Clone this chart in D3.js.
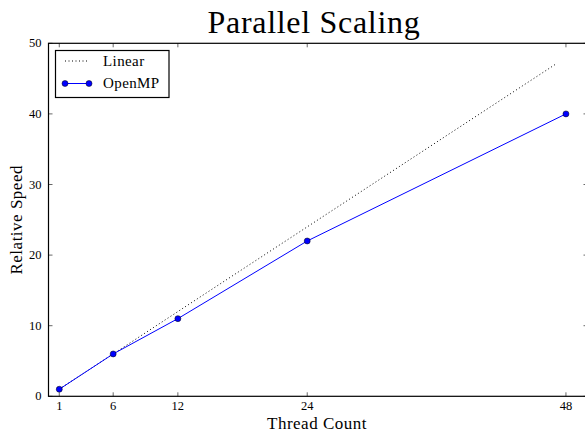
<!DOCTYPE html>
<html><head><meta charset="utf-8">
<script src="https://cdn.jsdelivr.net/npm/d3@7/dist/d3.min.js"></script>
<style>body{margin:0;background:#fff}svg{display:block}text{font-family:"Liberation Serif","DejaVu Serif",serif}</style>
</head><body>
<svg id="c" width="585" height="434"></svg>
<script>
const threadTicks = [1, 6, 12, 24, 48];
const yTicks = [0, 10, 20, 30, 40, 50];
const linearX = [1, 47];
const linearY = [1, 47];
const openmpX = [1, 6, 12, 24, 48];
const openmpY = [1, 6, 11, 22, 40];

const svg = d3.select("#c");
const L = 48.5, R = 587.5, T = 43.3, B = 396.3;
const x = d3.scaleLinear().domain([0, 50]).range([L, R]);
const y = d3.scaleLinear().domain([0, 50]).range([B, T]);

const g = svg.append("g");
threadTicks.forEach(t => {
  g.append("line").attr("x1", x(t)).attr("x2", x(t)).attr("y1", B).attr("y2", B - 4).attr("stroke", "#000").attr("stroke-width", 0.6);
  g.append("line").attr("x1", x(t)).attr("x2", x(t)).attr("y1", T).attr("y2", T + 4).attr("stroke", "#000").attr("stroke-width", 0.6);
  g.append("text").attr("x", x(t)).attr("y", B + 14).attr("text-anchor", "middle").attr("font-size", 12.5).text(t);
});
yTicks.forEach(t => {
  g.append("line").attr("x1", L).attr("x2", L + 4).attr("y1", y(t)).attr("y2", y(t)).attr("stroke", "#000").attr("stroke-width", 0.6);
  g.append("line").attr("x1", R).attr("x2", R - 4).attr("y1", y(t)).attr("y2", y(t)).attr("stroke", "#000").attr("stroke-width", 0.6);
  g.append("text").attr("x", L - 7).attr("y", y(t) + 4).attr("text-anchor", "end").attr("font-size", 12.5).text(t);
});

const line = d3.line().x(d => x(d[0])).y(d => y(d[1]));
svg.append("path").datum(linearX.map((v, i) => [v, linearY[i]])).attr("d", line)
  .attr("fill", "none").attr("stroke", "#000").attr("stroke-width", 1).attr("stroke-dasharray", "1,2.5");
const om = openmpX.map((v, i) => [v, openmpY[i]]);
svg.append("path").datum(om).attr("d", line).attr("fill", "none").attr("stroke", "#0000ff").attr("stroke-width", 1);
svg.selectAll("circle.p").data(om).join("circle").attr("cx", d => x(d[0])).attr("cy", d => y(d[1])).attr("r", 3)
  .attr("fill", "#0000ff").attr("stroke", "#000").attr("stroke-width", 0.5);

svg.append("rect").attr("x", L).attr("y", T).attr("width", R - L).attr("height", B - T).attr("fill", "none").attr("stroke", "#000").attr("stroke-width", 1.2);

svg.append("rect").attr("x", 55.5).attr("y", 50.5).attr("width", 113.5).attr("height", 47).attr("fill", "#fff").attr("stroke", "#000").attr("stroke-width", 1.2);
svg.append("line").attr("x1", 65).attr("x2", 89).attr("y1", 61).attr("y2", 61).attr("stroke", "#000").attr("stroke-dasharray", "1,2.5");
svg.append("text").attr("x", 103).attr("y", 65.5).attr("font-size", 15).attr("letter-spacing", 0.4).text("Linear");
svg.append("line").attr("x1", 65).attr("x2", 89).attr("y1", 83.5).attr("y2", 83.5).attr("stroke", "#0000ff");
[65, 89].forEach(cx => svg.append("circle").attr("cx", cx).attr("cy", 83.5).attr("r", 3).attr("fill", "#0000ff").attr("stroke", "#000").attr("stroke-width", 0.5));
svg.append("text").attr("x", 103).attr("y", 88).attr("font-size", 15).attr("letter-spacing", 0.4).text("OpenMP");

svg.append("text").attr("x", 314).attr("y", 33).attr("text-anchor", "middle").attr("font-size", 32).attr("letter-spacing", 0.7).text("Parallel Scaling");
svg.append("text").attr("x", 317).attr("y", 429).attr("text-anchor", "middle").attr("font-size", 17).attr("letter-spacing", 0.5).text("Thread Count");
svg.append("text").attr("transform", "translate(22," + ((T + B) / 2) + ") rotate(-90)").attr("text-anchor", "middle").attr("font-size", 17).attr("letter-spacing", 0.5).text("Relative Speed");
</script>
</body></html>
